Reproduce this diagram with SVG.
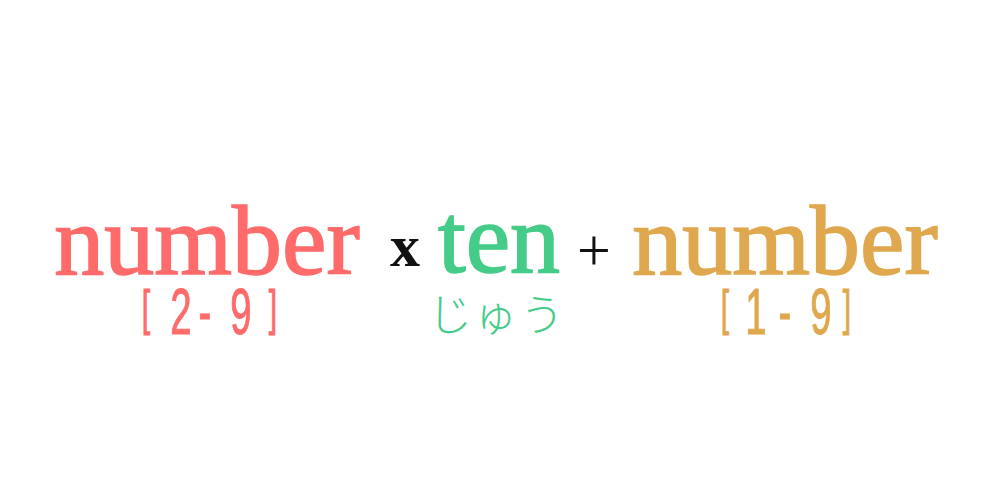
<svg xmlns="http://www.w3.org/2000/svg" width="1000" height="500" viewBox="0 0 1000 500">
<style>
.word{font-family:"Liberation Serif","Times New Roman",serif;font-size:100px;text-anchor:middle;stroke-width:1.6px}
.rng{font-family:"Liberation Sans",Arial,sans-serif;font-size:64px;text-anchor:middle;stroke-width:1px}
.op{font-family:"Liberation Serif","Times New Roman",serif;fill:#111;text-anchor:middle}
.red{fill:#ff6b6b;stroke:#ff6b6b}.green{fill:#44cc88;stroke:#44cc88}.gold{fill:#e0a84e;stroke:#e0a84e}
.jp{font-family:"Noto Sans CJK JP","Noto Sans CJK SC",sans-serif;font-size:44px;font-weight:300;text-anchor:middle;stroke:none}
</style>
<rect width="1000" height="500" fill="#fff"/>
<g id="number1" class="red">
<text class="word" x="207" y="274">number</text>
<text class="rng" transform="translate(0,334) scale(0.6,1)"><tspan x="243.3" y="-9" font-size="50">[</tspan><tspan x="301.7" y="0">2</tspan><tspan x="341.7" y="0">-</tspan><tspan x="401.7" y="0">9</tspan><tspan x="455" y="-9" font-size="50">]</tspan></text>
</g>
<g id="times"><text class="op" x="405" y="266" font-size="60" font-weight="bold">x</text></g>
<g id="ten" class="green">
<text class="word" x="499" y="272" font-size="96">ten</text>
<text class="jp" x="450 495 542" y="331">じゅう</text>
</g>
<g id="plus"><text class="op" x="594" y="270" font-size="60">+</text></g>
<g id="number2" class="gold">
<text class="word" x="785" y="274">number</text>
<text class="rng" transform="translate(0,334) scale(0.6,1)"><tspan x="1208.3" y="-9" font-size="50">[</tspan><tspan x="1260" y="0">1</tspan><tspan x="1308.3" y="0">-</tspan><tspan x="1368.3" y="0">9</tspan><tspan x="1411.7" y="-9" font-size="50">]</tspan></text>
</g>
</svg>
